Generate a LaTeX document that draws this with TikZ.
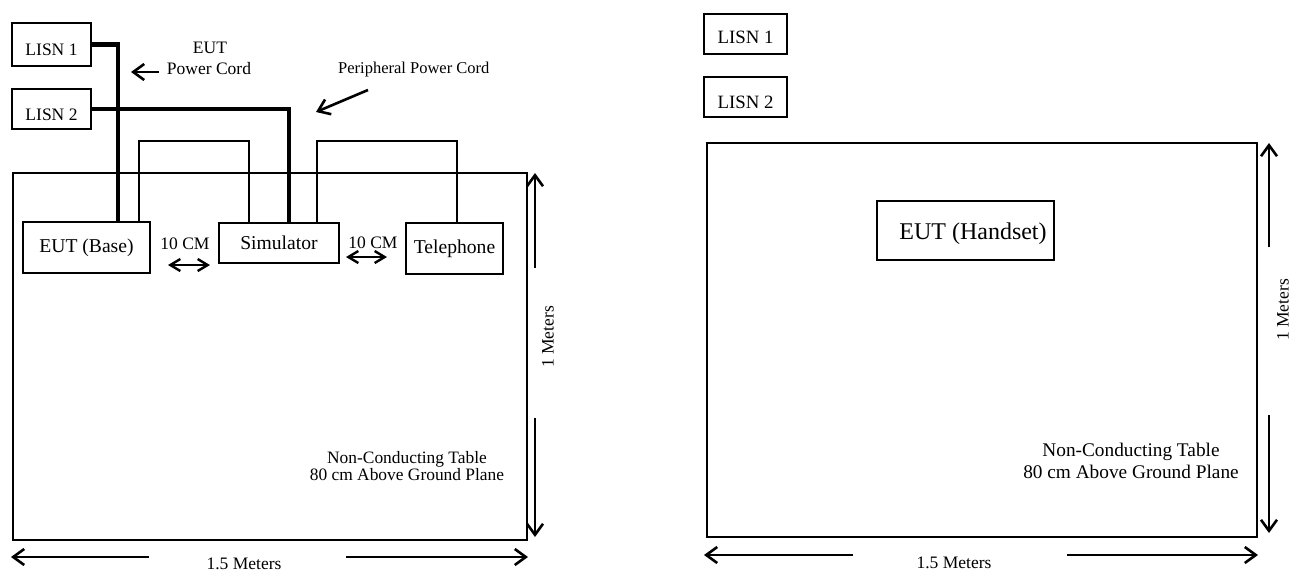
\documentclass[tikz,border=0pt]{standalone}
\usepackage{fontspec}
\setmainfont{Liberation Serif}
\usetikzlibrary{arrows.meta}
\begin{document}
\begin{tikzpicture}[x=1pt,y=-1pt,
  box/.style={draw,line width=2.2pt,inner sep=0pt},
  tbl/.style={draw,line width=2.6pt,inner sep=0pt},
  lbl/.style={inner sep=0pt,font=\fontsize{17.5}{20}\selectfont},
  big/.style={inner sep=0pt,font=\fontsize{19.6}{22}\selectfont},
  cord/.style={line width=4.8pt},
  wire/.style={line width=2pt},
  dim/.style={line width=2.6pt,-{Straight Barb[length=11pt,width=16pt]}},
  dimd/.style={line width=2.4pt,{Straight Barb[length=10pt,width=12pt]}-{Straight Barb[length=10pt,width=12pt]}}]
\useasboundingbox (0,0) rectangle (1299,576);

% ---------------- left set-up ----------------
\node[box,minimum width=79pt,minimum height=43pt] (lA) at (51.5,44.5) {};
\node[lbl,font=\fontsize{17.5}{20}\selectfont] (lAt) at ([yshift=-5.5pt]lA.center) {LISN 1};
\node[box,minimum width=79pt,minimum height=40pt] (lB) at (51.5,109) {};
\node[lbl,font=\fontsize{17.5}{20}\selectfont] (lBt) at ([yshift=-6pt]lB.center) {LISN 2};

\node[tbl,minimum width=514pt,minimum height=367pt] (tabA) at (270,356.5) {};

\node[box,big,minimum width=127pt,minimum height=51pt] (eutb) at (86.5,247.5) {EUT (Base)};
\node[box,big,minimum width=120pt,minimum height=40pt] (sim) at (279,243) {Simulator};
\node[box,big,minimum width=97pt,minimum height=51pt] (tel) at (454.5,248.5) {Telephone};

\coordinate (kA) at (118,0);
\coordinate (kB) at (289,0);
\draw[cord] (lA.east) -| (kA |- eutb.north);
\draw[cord] (lB.east) -| (kB |- sim.north);

\coordinate (wA) at (139,141);
\coordinate (wB) at (249,141);
\coordinate (wC) at (317,141);
\coordinate (wD) at (457,141);
\draw[wire] (wA |- eutb.north) -- (wA) -- (wB) -- (wB |- sim.north);
\draw[wire] (wC |- sim.north) -- (wC) -- (wD) -- (wD |- tel.north);

\node[lbl] (eutl) at (210,48) {EUT};
\node[lbl] (pcl) at (209,69) {Power Cord};
\coordinate (pcA) at (159,72);
\coordinate (pcB) at (131,72);
\draw[dim] (pcA) -- (pcB);

\node[lbl,anchor=west,font=\fontsize{16.5}{20}\selectfont] (ppc) at (338,70) {Peripheral Power Cord};
\coordinate (ppA) at (368,90);
\coordinate (ppB) at (316,112);
\draw[dim] (ppA) -- (ppB);

\node[lbl] (cmA) at (185,244) {10 CM};
\coordinate (cmA1) at (168,265);
\coordinate (cmA2) at (210,265);
\draw[dimd] (cmA1) -- (cmA2);
\node[lbl] (cmB) at (373,243) {10 CM};
\coordinate (cmB1) at (346,257);
\coordinate (cmB2) at (387,257);
\draw[dimd] (cmB1) -- (cmB2);

\coordinate (vA1) at (535,268);
\coordinate (vA2) at (535,173);
\coordinate (vA3) at (535,418);
\coordinate (vA4) at (535,537);
\draw[dim] (vA1) -- (vA2);
\draw[dim] (vA3) -- (vA4);
\node[lbl,rotate=90] (mA) at (548,337) {1 Meters};

\coordinate (hA1) at (149,557);
\coordinate (hA2) at (11,557);
\coordinate (hA3) at (346,557);
\coordinate (hA4) at (528,557);
\draw[dim] (hA1) -- (hA2);
\draw[dim] (hA3) -- (hA4);
\node[lbl] (wAl) at (244,564) {1.5 Meters};

\node[lbl,align=center,font=\fontsize{17.4}{17}\selectfont] (ncA) at (407,466)
  {Non-Conducting Table\\80 cm Above Ground Plane};

% ---------------- right set-up ----------------
\node[box,minimum width=83pt,minimum height=40pt] (rA) at (745.5,34) {};
\node[lbl,font=\fontsize{18.8}{20}\selectfont] (rAt) at ([yshift=-3pt]rA.center) {LISN 1};
\node[box,minimum width=83pt,minimum height=40pt] (rB) at (745.5,97) {};
\node[lbl,font=\fontsize{18.8}{20}\selectfont] (rBt) at ([yshift=-5pt]rB.center) {LISN 2};

\node[tbl,minimum width=550pt,minimum height=394pt] (tabB) at (982,340) {};

\node[box,minimum width=177pt,minimum height=59pt] (hs) at (965.5,230.5) {};
\node[lbl,font=\fontsize{24}{26}\selectfont] (hst) at ([xshift=7.5pt,yshift=-3pt]hs.center) {EUT (Handset)};

\coordinate (vB1) at (1269,247);
\coordinate (vB2) at (1269,143);
\coordinate (vB3) at (1269,415);
\coordinate (vB4) at (1269,533);
\draw[dim] (vB1) -- (vB2);
\draw[dim] (vB3) -- (vB4);
\node[lbl,rotate=90] (mB) at (1283,310) {1 Meters};

\coordinate (hB1) at (853,555);
\coordinate (hB2) at (704,555);
\coordinate (hB3) at (1067,555);
\coordinate (hB4) at (1258,555);
\draw[dim] (hB1) -- (hB2);
\draw[dim] (hB3) -- (hB4);
\node[lbl] (wBl) at (954,563) {1.5 Meters};

\node[big,align=center,font=\fontsize{19.3}{22}\selectfont] (ncB) at (1131,461)
  {Non-Conducting Table\\80 cm Above Ground Plane};
\end{tikzpicture}
\end{document}
